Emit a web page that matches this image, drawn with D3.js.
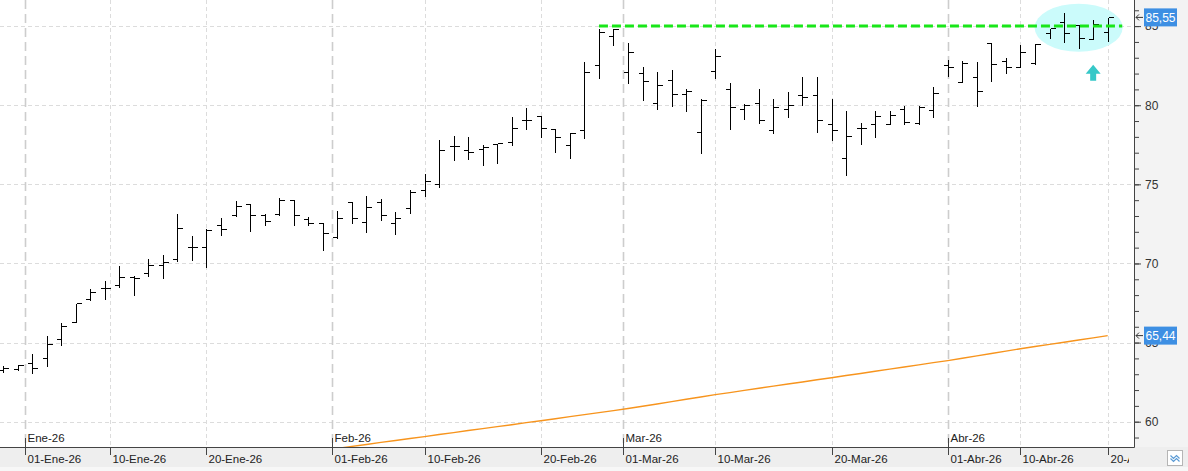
<!DOCTYPE html>
<html>
<head>
<meta charset="utf-8">
<script src="https://cdn.jsdelivr.net/npm/d3@7/dist/d3.min.js"></script>
<style>
  body { margin: 0; background: #fff; }
  svg { display: block; font-family: "Liberation Sans", Arial, sans-serif; }
</style>
</head>
<body>
<svg id="chart" width="1188" height="471"></svg>
<script>
// daily bars (trading days only)
var dates = [
  "2025-12-30", "2025-12-31", "2026-01-02", "2026-01-05", "2026-01-06", "2026-01-07", "2026-01-08", "2026-01-09",
  "2026-01-12", "2026-01-13", "2026-01-14", "2026-01-15", "2026-01-16", "2026-01-19", "2026-01-20", "2026-01-21",
  "2026-01-22", "2026-01-23", "2026-01-26", "2026-01-27", "2026-01-28", "2026-01-29", "2026-01-30", "2026-02-02",
  "2026-02-03", "2026-02-04", "2026-02-05", "2026-02-06", "2026-02-09", "2026-02-10", "2026-02-11", "2026-02-12",
  "2026-02-13", "2026-02-16", "2026-02-17", "2026-02-18", "2026-02-19", "2026-02-20", "2026-02-23", "2026-02-24",
  "2026-02-25", "2026-02-26", "2026-02-27", "2026-03-02", "2026-03-03", "2026-03-04", "2026-03-05", "2026-03-06",
  "2026-03-09", "2026-03-10", "2026-03-11", "2026-03-12", "2026-03-13", "2026-03-16", "2026-03-17", "2026-03-18",
  "2026-03-19", "2026-03-20", "2026-03-23", "2026-03-24", "2026-03-25", "2026-03-26", "2026-03-27", "2026-03-30",
  "2026-03-31", "2026-04-01", "2026-04-02", "2026-04-07", "2026-04-08", "2026-04-09", "2026-04-10", "2026-04-13",
  "2026-04-14", "2026-04-15", "2026-04-16", "2026-04-17", "2026-04-20"
];
var open = [
  63.29, 63.33, 63.71, 64.03, 65.23, 66.28, 67.75, 68.42, 68.61, 69.14, 69.39, 69.90, 70.28, 71.04, 71.04, 72.44,
  73.06, 73.75, 73.06, 73.12, 74.02, 72.82, 72.55, 71.70, 73.88, 72.61, 73.88, 72.55, 73.50, 74.63, 75.01, 77.43,
  77.16, 77.22, 77.56, 77.66, 79.05, 79.32, 78.48, 77.49, 78.42, 82.53, 84.39, 82.08, 82.02, 80.15, 81.58, 80.69,
  78.30, 82.15, 81.01, 79.75, 80.15, 78.42, 79.75, 80.63, 80.63, 78.80, 76.65, 78.55, 78.80, 78.82, 79.75, 78.90,
  79.70, 82.53, 81.47, 81.77, 83.91, 82.82, 82.40, 82.65, 84.55, 85.28, 85.07, 84.17, 84.61
];
var high = [
  63.61, 63.65, 64.34, 65.50, 66.30, 67.50, 68.45, 68.97, 69.90, 69.29, 70.34, 70.59, 73.18, 71.79, 72.24, 72.93,
  74.02, 73.77, 73.18, 74.19, 74.02, 73.03, 72.65, 73.39, 73.90, 74.34, 74.13, 73.33, 74.70, 75.73, 77.85, 78.12,
  78.06, 77.56, 77.62, 79.32, 79.89, 79.32, 78.55, 78.33, 82.80, 84.86, 84.86, 84.02, 82.48, 82.17, 82.29, 81.11,
  80.48, 83.60, 81.45, 80.15, 81.11, 80.48, 80.90, 81.85, 81.85, 80.48, 79.68, 78.93, 79.68, 79.70, 80.00, 80.00,
  81.22, 82.90, 82.86, 82.80, 84.02, 83.07, 83.87, 83.91, 84.86, 85.91, 85.07, 85.43, 85.55
];
var low = [
  63.14, 63.29, 63.08, 63.50, 64.82, 66.28, 67.71, 67.75, 68.49, 68.02, 69.18, 69.08, 70.17, 70.19, 69.77, 71.77,
  73.01, 72.08, 72.40, 73.07, 72.46, 72.42, 70.82, 71.60, 72.53, 71.96, 72.74, 71.86, 73.22, 74.29, 74.82, 76.55,
  76.61, 76.23, 76.38, 77.49, 78.52, 78.02, 77.07, 76.69, 77.92, 81.74, 83.81, 81.43, 80.33, 79.75, 79.96, 79.66,
  77.01, 81.74, 78.50, 79.15, 78.90, 78.23, 79.28, 80.02, 78.33, 77.81, 75.60, 77.58, 78.02, 78.82, 78.82, 78.82,
  79.28, 81.85, 81.47, 79.97, 81.55, 82.02, 82.40, 82.61, 84.23, 83.98, 83.60, 84.17, 84.08
];
var close = [
  63.40, 63.56, 63.40, 64.91, 66.02, 67.50, 68.19, 68.42, 69.14, 69.08, 69.90, 70.11, 72.24, 71.07, 72.13, 72.17,
  73.62, 73.06, 72.68, 74.02, 73.06, 72.53, 71.92, 72.87, 72.87, 73.56, 73.06, 72.87, 74.53, 75.22, 77.16, 77.43,
  77.05, 77.35, 77.60, 78.55, 79.05, 78.55, 77.98, 78.27, 82.08, 84.61, 84.80, 83.35, 81.52, 81.26, 80.69, 80.88,
  80.32, 83.09, 79.89, 80.00, 79.05, 79.89, 80.00, 80.51, 79.05, 78.42, 78.06, 78.55, 79.32, 79.39, 78.93, 79.87,
  80.76, 82.40, 82.65, 80.90, 82.61, 82.44, 83.35, 83.87, 84.86, 84.58, 84.27, 85.13, 85.55
];
// long moving average (orange), null where it sits below the visible range
var sma = [
  null, null, null, null, null, null, null, null, null, null, null, null, null, null, null, null,
  null, null, null, null, null, null, 58.19, 58.31, 58.44, 58.56, 58.69, 58.81, 58.94, 59.06, 59.19, 59.31,
  59.44, 59.56, 59.69, 59.81, 59.94, 60.06, 60.19, 60.32, 60.45, 60.57, 60.70, 60.83, 60.98, 61.12, 61.27, 61.42,
  61.56, 61.71, 61.84, 61.98, 62.11, 62.25, 62.38, 62.51, 62.65, 62.78, 62.92, 63.05, 63.19, 63.32, 63.46, 63.59,
  63.73, 63.86, 64.01, 64.16, 64.31, 64.46, 64.61, 64.75, 64.89, 65.02, 65.16, 65.30, 65.44
];

var yTicks = [60, 65, 70, 75, 80, 85];
var tickDates = ["2026-01-01", "2026-01-10", "2026-01-20", "2026-02-01", "2026-02-10", "2026-02-20",
  "2026-03-01", "2026-03-10", "2026-03-20", "2026-04-01", "2026-04-10", "2026-04-20"];
var tickLabels = ["01-Ene-26", "10-Ene-26", "20-Ene-26", "01-Feb-26", "10-Feb-26", "20-Feb-26",
  "01-Mar-26", "10-Mar-26", "20-Mar-26", "01-Abr-26", "10-Abr-26", "20-Abr-26"];
var monthDates = ["2026-01-01", "2026-02-01", "2026-03-01", "2026-04-01"];
var monthLabels = ["Ene-26", "Feb-26", "Mar-26", "Abr-26"];

// drawn annotations
var resistance = 85.0, resistanceFrom = 41, resistanceTo = 77;

var W = 1188, H = 471;
var plotRight = 1134, plotBottom = 447;

var x = d3.scaleLinear().domain([0, dates.length - 1]).range([3, 1107.7]);
var y = d3.scaleLinear().domain([60, 85]).range([421.7, 26.1]);

var parse = d3.timeParse("%Y-%m-%d");
var tradeDays = dates.map(parse);

// calendar date -> fractional bar index
function dayPos(s) {
  var d = parse(s);
  var i = d3.bisectRight(tradeDays, d) - 1;
  if (i < 0) return 0;
  if (i >= tradeDays.length - 1) return tradeDays.length - 1;
  return i + (d - tradeDays[i]) / (tradeDays[i + 1] - tradeDays[i]);
}
function fmt(v) { return d3.format(".2f")(v).replace(".", ","); }
function bx(i) { return Math.round(x(i)) + 0.5; }
function by(v) { return Math.round(y(v)) + 0.5; }

var svg = d3.select("#chart");
var defs = svg.append("defs");
defs.append("clipPath").attr("id", "plotClip")
  .append("rect").attr("x", 0).attr("y", 0).attr("width", plotRight).attr("height", plotBottom);
defs.append("clipPath").attr("id", "labelClip")
  .append("rect").attr("x", 0).attr("y", plotBottom).attr("width", 1129).attr("height", 24);

// backgrounds
svg.append("rect").attr("x", 0).attr("y", 0).attr("width", W).attr("height", H).attr("fill", "#f7f7f7");
svg.append("rect").attr("x", 0).attr("y", 0).attr("width", plotRight).attr("height", plotBottom).attr("fill", "#ffffff");
svg.append("rect").attr("x", plotRight).attr("y", 0).attr("width", W - plotRight).attr("height", plotBottom).attr("fill", "#f3f3f3");
svg.append("rect").attr("x", 0).attr("y", plotBottom).attr("width", W).attr("height", 20).attr("fill", "#eeeeee");

var plot = svg.append("g").attr("clip-path", "url(#plotClip)");

// grid
plot.selectAll("line.hgrid")
  .data(yTicks)
  .enter()
  .append("line")
  .attr("class", "hgrid")
  .attr("x1", 0).attr("x2", plotRight)
  .attr("y1", function (d) { return by(d); })
  .attr("y2", function (d) { return by(d); })
  .attr("stroke", "#dcdcdc").attr("stroke-dasharray", "4,3");

plot.selectAll("line.vgrid")
  .data(tickDates)
  .enter()
  .append("line")
  .attr("class", "vgrid")
  .attr("x1", function (d) { return Math.round(x(dayPos(d))) + 0.5; })
  .attr("x2", function (d) { return Math.round(x(dayPos(d))) + 0.5; })
  .attr("y1", 0).attr("y2", plotBottom)
  .attr("stroke", function (d) { return monthDates.indexOf(d) >= 0 ? "#cdcdcd" : "#dcdcdc"; })
  .attr("stroke-width", function (d) { return monthDates.indexOf(d) >= 0 ? 1.6 : 1; })
  .attr("stroke-dasharray", function (d) { return monthDates.indexOf(d) >= 0 ? "9,5" : "4,3"; });

// highlight ellipse round the last bars
var hlIndex = 74, hlValue = 84.9, hlBars = 3.03, hlRange = 1.52;
plot.append("ellipse")
  .attr("cx", x(hlIndex)).attr("cy", y(hlValue))
  .attr("rx", x(hlIndex + hlBars) - x(hlIndex))
  .attr("ry", y(hlValue - hlRange) - y(hlValue))
  .attr("fill", "#cbfbfb");

// moving average
var maLine = d3.line()
  .defined(function (d) { return d !== null; })
  .x(function (d, i) { return x(i); })
  .y(function (d) { return y(d); });
plot.append("path")
  .datum(sma)
  .attr("d", maLine)
  .attr("fill", "none")
  .attr("stroke", "#f7941d")
  .attr("stroke-width", 1.4);

// OHLC bars
var bars = plot.selectAll("g.bar")
  .data(dates)
  .enter()
  .append("g")
  .attr("class", "bar")
  .attr("stroke", "#000")
  .attr("stroke-width", 1)
  .attr("shape-rendering", "crispEdges");
bars.append("line")
  .attr("x1", function (d, i) { return bx(i); })
  .attr("x2", function (d, i) { return bx(i); })
  .attr("y1", function (d, i) { return by(high[i]); })
  .attr("y2", function (d, i) { return by(low[i]); });
bars.append("line")
  .attr("x1", function (d, i) { return bx(i) - 5; })
  .attr("x2", function (d, i) { return bx(i); })
  .attr("y1", function (d, i) { return by(open[i]); })
  .attr("y2", function (d, i) { return by(open[i]); });
bars.append("line")
  .attr("x1", function (d, i) { return bx(i); })
  .attr("x2", function (d, i) { return bx(i) + 5; })
  .attr("y1", function (d, i) { return by(close[i]); })
  .attr("y2", function (d, i) { return by(close[i]); });

// resistance line
plot.append("line")
  .attr("x1", x(resistanceFrom)).attr("x2", x(resistanceTo))
  .attr("y1", y(resistance)).attr("y2", y(resistance))
  .attr("stroke", "#19e619").attr("stroke-width", 3).attr("stroke-dasharray", "9,4");

// up arrow under the ellipse
var arIndex = 75, arTop = 82.55, arBottom = 81.55;
var ax = x(arIndex), at = y(arTop), ab = y(arBottom);
plot.append("path")
  .attr("d", "M" + ax + "," + at + " L" + (ax + 7.5) + "," + (at + 9) + " L" + (ax + 3) + "," + (at + 9) +
    " L" + (ax + 3) + "," + ab + " L" + (ax - 3) + "," + ab + " L" + (ax - 3) + "," + (at + 9) +
    " L" + (ax - 7.5) + "," + (at + 9) + " Z")
  .attr("fill", "#36c8c8");

// right axis
var minor = svg.append("g")
  .attr("transform", "translate(" + plotRight + ",0)")
  .call(d3.axisRight(y).tickValues(d3.range(59, 87)).tickSize(5).tickFormat(""));
minor.select(".domain").remove();
minor.selectAll("line").attr("stroke", "#444");
var major = svg.append("g")
  .attr("transform", "translate(" + plotRight + ",0)")
  .call(d3.axisRight(y).tickValues(yTicks).tickSize(7).tickPadding(4));
major.select(".domain").remove();
major.selectAll("line").attr("stroke", "#444");
major.selectAll("text").attr("fill", "#333").attr("font-size", 12);

svg.append("line")
  .attr("x1", plotRight + 0.5).attr("x2", plotRight + 0.5)
  .attr("y1", 0).attr("y2", plotBottom + 0.5)
  .attr("stroke", "#444");
svg.append("line")
  .attr("x1", 0).attr("x2", plotRight + 0.5)
  .attr("y1", plotBottom + 0.5).attr("y2", plotBottom + 0.5)
  .attr("stroke", "#444");

// bottom axis
var xAxis = svg.append("g").attr("clip-path", "url(#labelClip)");
var xt = xAxis.selectAll("g")
  .data(tickDates)
  .enter()
  .append("g")
  .attr("transform", function (d) { return "translate(" + (Math.round(x(dayPos(d))) + 0.5) + "," + plotBottom + ")"; });
xt.append("line").attr("y1", 0).attr("y2", 8).attr("stroke", "#444");
xt.append("text")
  .attr("x", 2).attr("y", 16)
  .attr("font-size", 11.5).attr("fill", "#222")
  .text(function (d, i) { return tickLabels[i]; });

var mt = svg.selectAll("g.month")
  .data(monthDates)
  .enter()
  .append("g")
  .attr("class", "month")
  .attr("transform", function (d) { return "translate(" + (Math.round(x(dayPos(d))) + 0.5) + "," + plotBottom + ")"; });
mt.append("line").attr("y1", -9).attr("y2", 0).attr("stroke", "#444");
mt.append("text")
  .attr("x", 2).attr("y", -5)
  .attr("font-size", 11.5).attr("fill", "#222")
  .text(function (d, i) { return monthLabels[i]; });

// last value markers
function marker(v, color) {
  var yy = y(v);
  var g = svg.append("g");
  g.append("path")
    .attr("d", "M" + (plotRight + 9) + "," + yy + " L" + (plotRight + 2) + "," + yy +
      " M" + (plotRight + 5) + "," + (yy - 3) + " L" + (plotRight + 2) + "," + yy + " L" + (plotRight + 5) + "," + (yy + 3))
    .attr("fill", "none").attr("stroke", "#333");
  g.append("rect")
    .attr("x", 1144).attr("y", yy - 9).attr("width", 33).attr("height", 18)
    .attr("fill", color);
  g.append("text")
    .attr("x", 1160.5).attr("y", yy + 4.5)
    .attr("text-anchor", "middle").attr("font-size", 12).attr("fill", "#fff")
    .text(fmt(v));
}
marker(close[close.length - 1], "#3d8fe3");
marker(sma[sma.length - 1], "#3d8fe3");

// small scale button, bottom right
var btn = svg.append("g").attr("transform", "translate(1167.5,450.5)");
btn.append("rect").attr("width", 15).attr("height", 15).attr("fill", "#fff").attr("stroke", "#b5b5b5");
btn.append("path").attr("d", "M3,5 L6,8 L9,5 L12,8").attr("fill", "none").attr("stroke", "#5b9bd5").attr("stroke-width", 1.2);
btn.append("path").attr("d", "M3,8 L6,11 L9,8 L12,11").attr("fill", "none").attr("stroke", "#5b9bd5").attr("stroke-width", 1.2);
</script>
</body>
</html>
